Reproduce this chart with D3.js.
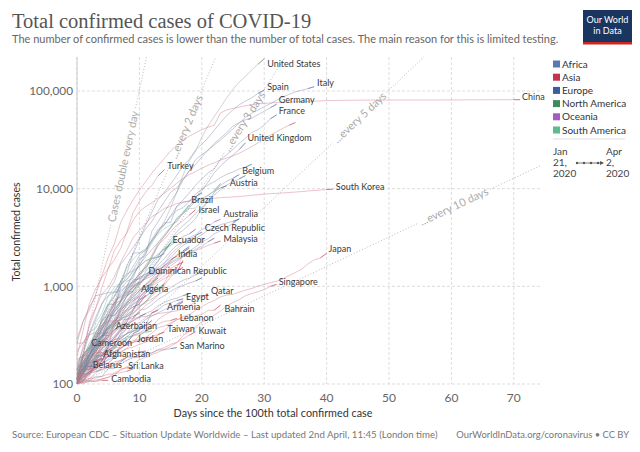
<!DOCTYPE html>
<html><head><meta charset="utf-8">
<script src="https://cdn.jsdelivr.net/npm/d3@7/dist/d3.min.js"></script>
<style>body{margin:0;background:#fff}svg{font-family:Lato,"Open Sans",sans-serif}</style>
</head><body><svg id="chart" width="640" height="452"></svg>
<script>
// ---------- DATA (cases by day since the 100th case) ----------
const continents = ["Africa","Asia","Europe","North America","Oceania","South America"];
const xTicks = [0,10,20,30,40,50,60,70];
const yTicks = [100,1000,10000,100000];
const doublingDays = [1,2,3,5,10];
const doublingLabels = ["Cases double every day","...every 2 days","...every 3 days","...every 5 days","...every 10 days"];

const casesUnitedStates=[100,124,158,221,319,435,541,704,994,1301,1630,2183,2770,3613,4596,6344,9197,13779,19367,24192,33592,43781,54856,68211,85356,104126,123578,140886,163788,188172,213372];
const casesSpain=[114,151,198,257,374,430,589,1024,1639,2140,3004,4231,5753,7753,9191,11178,13716,17147,19980,24926,28572,33089,39673,47610,56188,64059,72248,78797,85195,94417,102136];
const casesItaly=[155,229,322,453,655,888,1128,1694,2036,2502,3089,3858,4636,5883,7375,9172,10149,12462,15113,17660,21157,24747,27980,31506,35713,41035,47021,53578,59138,63927,69176,74386,80589,86498,92472,97689,101739,105792,110574];
const casesGermany=[130,159,196,262,482,670,799,1040,1176,1457,1908,2078,3675,4585,5795,7272,9257,12327,15320,19848,22213,24873,29056,32986,37323,43938,47373,50871,52547,57298,61913,67366,73522];
const casesFrance=[100,130,191,212,285,423,613,949,1126,1209,1784,2281,2876,3661,4469,4499,6633,7652,9043,10871,12612,14459,16018,19856,22302,25233,29155,32964,37575,40174,44550,52128,56989];
const casesChina=[291,440,571,830,1287,1975,2744,4515,5974,7711,9692,11791,14380,17205,20438,24324,28018,31161,34546,37198,40171,42638,44653,59804,63851,66492,68500,70548,72436,74185,74576,75465,76288,76936,77150,77658,78064,78497,78824,79251,79824,80026,80151,80270,80409,80552,80651,80695,80735,80754,80778,80793,80813,80824,80844,80860,80881,80894,80928,80967,81008,81054,81093,81171,81218,81285,81340,81394,81439,81470,81518,81554];
const casesUnitedKingdom=[115,163,206,273,321,373,456,590,797,1061,1391,1543,1950,2626,3269,3983,5018,5683,6650,8077,9529,11658,14543,17089,19522,22141,25150,29474];
const casesIran=[139,245,388,593,978,1501,2336,2922,3513,4747,5823,6566,7161,8042,9000,10075,11364,12729,13938,14991,16169,17361,18407,19644,20610,21638,23049,24811,27017,29406,32332,35408,38309,41495,44605,47593];
const casesTurkey=[191,359,670,947,1236,1529,1872,2433,3629,5698,7402,9217,10827,13531,15679];
const casesBelgium=[169,200,239,267,314,314,399,559,689,886,1058,1243,1486,1795,2257,2815,3401,3743,4269,4937,6235,7284,9134,10836,11899,12775,13964];
const casesAustria=[104,131,182,246,302,504,655,860,1016,1332,1646,2013,2388,2814,3244,3924,4876,5560,6398,7399,7995,8536,9377,10180,10711];
const casesSouthKorea=[104,204,433,602,833,977,1261,1766,2337,3150,3736,4335,5186,5621,6284,6593,7041,7314,7478,7513,7755,7869,7979,8086,8162,8236,8320,8413,8565,8652,8799,8897,8961,9037,9137,9241,9332,9478,9583,9661,9786,9887];
const casesBrazil=[121,200,234,291,428,621,904,1128,1546,1891,2201,2433,2915,3417,3904,4256,4579,5717,6836];
const casesIsrael=[178,193,213,298,337,433,677,705,883,1071,1238,1656,2030,2666,3035,3619,4247,4695,5358,6092];
const casesAustralia=[107,112,127,156,197,249,298,375,454,565,709,874,1098,1315,1709,2136,2431,2805,3166,3378,3809,4093,4557,4860];
const casesCzechRepublic=[116,141,189,253,298,383,464,694,833,995,1120,1236,1394,1654,1925,2279,2631,2817,3001,3308,3589];
const casesMalaysia=[117,129,149,149,197,238,428,566,673,790,900,1030,1183,1306,1518,1624,1796,2031,2161,2320,2470,2626,2766,2908];
const casesEcuador=[111,168,199,426,532,789,981,1082,1173,1403,1595,1823,1924,1962,2240,2748];
const casesIndia=[107,114,137,151,173,223,283,360,434,519,606,694,834,918,1024,1251,1397,1834];
const casesJapan=[105,132,144,144,156,164,186,210,230,239,254,268,284,317,349,408,455,488,514,568,620,675,716,780,814,829,873,914,950,1007,1046,1089,1128,1193,1291,1387,1499,1693,1866,1953,2178];
const casesDominicanRepublic=[112,202,245,312,392,488,581,719,859,901,1109];
const casesAlgeria=[139,201,230,264,302,367,409,454,511,584,716,847,986];
const casesSingapore=[102,106,108,110,112,117,130,138,150,160,178,187,200,212,226,243,266,313,345,385,432,455,509,558,631,683,732,802,844,879,926,1000,1049];
const casesQatar=[262,262,320,337,401,439,442,452,460,470,481,494,501,526,537,549,562,590,634,693,781,835];
const casesEgypt=[110,150,166,196,196,256,285,294,327,366,402,456,495,536,576,609,656,710];
const casesArmenia=[115,136,160,194,235,249,265,290,329,407,424,482,532,571];
const casesBahrain=[110,195,195,210,210,214,214,228,256,279,285,298,332,377,392,419,458,466,476,499,515,567,569,643];
const casesLebanon=[110,120,133,149,157,163,187,248,267,318,333,368,391,412,438,446,470];
const casesAzerbaijan=[122,165,182,209,273,298,359,400];
const casesTaiwan=[100,108,135,153,169,195,215,235,252,267,283,298,306,322,339];
const casesKuwait=[100,104,112,130,142,148,159,176,188,189,191,195,208,225,235,255,266,289,317,342];
const casesJordan=[112,127,127,153,172,212,235,235,259,268,274,278,299];
const casesCameroon=[139,142,142,193,193,223];
const casesSanMarino=[101,109,109,119,119,144,144,160,175,187,187,208,208,223,224,230,236];
const casesAfghanistan=[110,110,120,170,174,237];
const casesSriLanka=[102,102,106,106,113,117,122,143,146,148];
const casesBelarus=[152,152,152,152];
const casesCambodia=[103,103,107,107,109,109];
// unlabelled countries
const casesSwitzerland=[214,268,337,374,491,652,652,1139,1359,2200,2200,2330,3010,3863,4222,5294,6575,7245,7474,8795,9877,10897,11811,12928,14076,14829,15922,16605,17768];
const casesNetherlands=[128,188,265,321,382,503,503,614,804,959,1135,1413,1705,2051,2460,2994,3631,4204,4749,5560,6412,7431,8603,9762,10866,11750,12595,13614];
const casesPortugal=[112,169,245,331,448,642,785,1020,1280,1600,2060,2362,2995,3544,4268,5170,5962,6408,7443,8251,9034];
const casesCanada=[103,138,176,244,304,424,569,690,846,971,1331,1470,2088,2792,3409,4043,4682,5576,6255,6320,7398,8527,9560,11284];
const casesNorway=[113,147,176,227,400,489,598,702,996,1090,1221,1333,1463,1550,1742,1959,2299,2625,2866,3084,3369,3755,4015,4284,4445,4641,4863];
const casesSweden=[137,161,203,248,355,500,687,814,961,1022,1103,1190,1279,1439,1639,1763,1934,2016,2299,2526,2840,3069,3447,3700,4028,4435,4947];
const casesDenmark=[262,442,615,801,827,864,875,898,1024,1115,1225,1337,1420,1514,1572,1718,1862,2023,2200,2395,2577,2860,3107];
const casesIreland=[129,169,223,292,366,557,683,785,906,1125,1329,1564,1819,2121,2415,2615,2910,3235,3447,3849];
const casesChile=[155,201,238,342,434,537,632,746,922,1142,1306,1610,1909,2139,2449,2738,3031];
const casesRussia=[114,147,199,253,306,367,438,495,658,840,1036,1264,1534,1836,2337,2777];
const casesPoland=[103,119,177,238,251,355,425,536,634,749,901,1051,1221,1389,1638,1862,2055,2311,2554];
const casesRomania=[123,131,158,184,260,277,308,367,433,576,762,906,1029,1292,1452,1815,2109,2245,2460];
const casesPhilippines=[111,140,142,187,202,217,230,307,380,462,552,636,707,803,1075,1418,1546,2084,2311];
const casesPakistan=[136,187,241,299,454,501,730,776,875,972,1063,1201,1373,1495,1597,1865,2039];
const casesLuxembourg=[140,203,335,484,670,798,875,1099,1333,1453,1605,1831,1950,1988,2178];
const casesSaudiArabia=[103,118,133,171,238,274,344,392,511,562,767,900,1012,1104,1203,1299,1453,1563];
const casesIndonesia=[117,134,172,227,309,369,450,514,579,686,790,893,1046,1155,1285,1414,1528];
const casesThailand=[114,147,177,212,272,322,411,599,721,827,934,1045,1136,1245,1388,1524,1651,1771];
const casesGreece=[117,190,228,331,331,387,418,464,495,530,624,695,743,821,892,966,1061,1156,1212,1314,1415];
const casesMexico=[118,164,203,251,316,367,405,475,585,717,848,993,1094,1215];
const casesPanama=[109,137,200,245,313,345,443,558,674,786,901,989,1075];
const casesPeru=[117,145,234,263,318,363,395,416,480,580,635,671,852,950,1065];
const casesArgentina=[128,158,225,266,301,387,502,589,690,745,820,966,1054];
const casesColombia=[102,108,145,196,231,306,378,470,491,539,608,702,798,906,1065];
const casesSerbia=[103,135,171,222,249,303,384,457,528,659,741,785,900,1060];
const casesSlovenia=[141,181,219,253,275,286,341,383,414,442,480,528,562,632,684,730,756,802,841];
const casesEstonia=[115,171,205,225,258,267,283,306,326,352,369,404,538,575,645,679,715,745];
const casesIraq=[110,116,124,154,164,192,208,214,233,266,316,346,382,458,506,547,630,694];
const casesIceland=[103,117,134,156,171,220,250,330,409,473,568,588,648,737,802,890,963,1020,1086,1135,1220];
const casesSouthAfrica=[116,150,202,240,274,402,554,709,927,1170,1187,1280,1326,1353,1380];
const casesUAE=[113,140,153,198,248,333,405,468,570,611,664,814];
const casesMorocco=[115,143,170,225,275,345,402,479,556,617,654];
const casesHungary=[103,131,167,187,226,261,300,343,408,447,492,525];
const casesNewZealand=[102,155,205,283,368,451,514,589,647,708,797];
const casesTunisia=[114,173,197,227,278,312,362,394,423];
const casesBurkinaFaso=[114,146,152,180,207,222,246,261,288];
const casesSenegal=[105,119,130,142,162,175,190,195];
const casesCostaRica=[113,117,134,158,177,201,231,263,295,314,330,347,375];
const casesUruguay=[110,135,158,162,189,217,238,274,304,310,320,338,350];
const casesCroatia=[105,128,206,254,315,382,442,495,586,657,713,790,867,963];
const casesVietnam=[113,123,134,141,148,153,169,174,188,203,212,218];
const casesUkraine=[113,145,196,310,356,475,548,645,794,897];
const casesGhana=[132,137,141,152,161,195];
const casesIvoryCoast=[101,140,165,168,179,190,194];
const casesMauritius=[102,107,128,143,161];
const casesNigeria=[111,131,139,174,184];
const casesUzbekistan=[104,145,149,172,181];
const casesMoldova=[125,149,177,199,231,263,298,353,423];
const casesBulgaria=[125,163,187,201,218,242,264,293,331,346,359,399];
const casesLithuania=[105,143,179,209,274,299,358,394,460,491,537];
const casesLatvia=[111,124,139,180,197,221,244,280,305,347,376,398,446];
const casesNorthMacedonia=[114,136,148,177,201,219,241,259,285,329,354];
const casesBosnia=[126,136,164,176,196,237,258,323,368,420];
const casesCyprus=[116,124,132,146,162,179,214,230,262,320];
const casesPuertoRico=[100,127,174,239,286];
const casesKazakhstan=[111,150,228,284,302,343];
const casesOman=[109,131,152,167,179,192,210];
const casesBrunei=[104,109,114,115,120,126,127,131,135,143];
const casesMalta=[107,110,129,134,139,149,156,169,188];
const casesCuba=[119,139,170,186,212];
const casesVenezuela=[107,119,129,135,143];

// table for the library: [name, continent, values, labelled?]
const seriesTable = [
 ["Algeria","Africa",casesAlgeria,1],["Egypt","Africa",casesEgypt,1],["Cameroon","Africa",casesCameroon,1],
 ["South Africa","Africa",casesSouthAfrica,0],["Morocco","Africa",casesMorocco,0],["Tunisia","Africa",casesTunisia,0],
 ["Burkina Faso","Africa",casesBurkinaFaso,0],["Senegal","Africa",casesSenegal,0],["Ghana","Africa",casesGhana,0],
 ["Cote d'Ivoire","Africa",casesIvoryCoast,0],["Mauritius","Africa",casesMauritius,0],["Nigeria","Africa",casesNigeria,0],
 ["Switzerland","Europe",casesSwitzerland,0],["Netherlands","Europe",casesNetherlands,0],["Portugal","Europe",casesPortugal,0],
 ["Norway","Europe",casesNorway,0],["Sweden","Europe",casesSweden,0],["Denmark","Europe",casesDenmark,0],["Ireland","Europe",casesIreland,0],
 ["Russia","Europe",casesRussia,0],["Poland","Europe",casesPoland,0],["Romania","Europe",casesRomania,0],["Luxembourg","Europe",casesLuxembourg,0],
 ["Greece","Europe",casesGreece,0],["Serbia","Europe",casesSerbia,0],["Slovenia","Europe",casesSlovenia,0],["Estonia","Europe",casesEstonia,0],
 ["Iceland","Europe",casesIceland,0],["Hungary","Europe",casesHungary,0],["Croatia","Europe",casesCroatia,0],["Ukraine","Europe",casesUkraine,0],
 ["Moldova","Europe",casesMoldova,0],["Bulgaria","Europe",casesBulgaria,0],["Lithuania","Europe",casesLithuania,0],["Latvia","Europe",casesLatvia,0],
 ["North Macedonia","Europe",casesNorthMacedonia,0],["Bosnia and Herzegovina","Europe",casesBosnia,0],["Cyprus","Europe",casesCyprus,0],["Malta","Europe",casesMalta,0],
 ["Philippines","Asia",casesPhilippines,0],["Pakistan","Asia",casesPakistan,0],["Saudi Arabia","Asia",casesSaudiArabia,0],["Indonesia","Asia",casesIndonesia,0],
 ["Thailand","Asia",casesThailand,0],["Iraq","Asia",casesIraq,0],["United Arab Emirates","Asia",casesUAE,0],["Vietnam","Asia",casesVietnam,0],
 ["Uzbekistan","Asia",casesUzbekistan,0],["Kazakhstan","Asia",casesKazakhstan,0],["Oman","Asia",casesOman,0],["Brunei","Asia",casesBrunei,0],
 ["Canada","North America",casesCanada,0],["Mexico","North America",casesMexico,0],["Panama","North America",casesPanama,0],
 ["Costa Rica","North America",casesCostaRica,0],["Puerto Rico","North America",casesPuertoRico,0],["Cuba","North America",casesCuba,0],
 ["Chile","South America",casesChile,0],["Peru","South America",casesPeru,0],["Argentina","South America",casesArgentina,0],
 ["Colombia","South America",casesColombia,0],["Uruguay","South America",casesUruguay,0],["Venezuela","South America",casesVenezuela,0],
 ["New Zealand","Oceania",casesNewZealand,0],["Iran","Asia",casesIran,0],
 ["United States","North America",casesUnitedStates,1],["Spain","Europe",casesSpain,1],["Italy","Europe",casesItaly,1],
 ["Germany","Europe",casesGermany,1],["France","Europe",casesFrance,1],["China","Asia",casesChina,1],["United Kingdom","Europe",casesUnitedKingdom,1],
 ["Turkey","Asia",casesTurkey,1],["Belgium","Europe",casesBelgium,1],["Austria","Europe",casesAustria,1],["South Korea","Asia",casesSouthKorea,1],
 ["Brazil","South America",casesBrazil,1],["Israel","Asia",casesIsrael,1],["Australia","Oceania",casesAustralia,1],
 ["Czech Republic","Europe",casesCzechRepublic,1],["Malaysia","Asia",casesMalaysia,1],["Ecuador","South America",casesEcuador,1],
 ["India","Asia",casesIndia,1],["Japan","Asia",casesJapan,1],["Dominican Republic","North America",casesDominicanRepublic,1],
 ["Singapore","Asia",casesSingapore,1],["Qatar","Asia",casesQatar,1],["Armenia","Asia",casesArmenia,1],["Bahrain","Asia",casesBahrain,1],
 ["Lebanon","Asia",casesLebanon,1],["Azerbaijan","Asia",casesAzerbaijan,1],["Taiwan","Asia",casesTaiwan,1],["Kuwait","Asia",casesKuwait,1],
 ["Jordan","Asia",casesJordan,1],["San Marino","Europe",casesSanMarino,1],["Afghanistan","Asia",casesAfghanistan,1],
 ["Sri Lanka","Asia",casesSriLanka,1],["Belarus","Europe",casesBelarus,1],["Cambodia","Asia",casesCambodia,1]
];

// ---------- LAYOUT / STYLE ----------
const continentColor = {"Africa":"#5878b8","Asia":"#c5344a","Europe":"#3e5c9e","North America":"#3f8a63","Oceania":"#a35cc6","South America":"#5dbb8d"};
const lineColor = {"Africa":"#6b86c0","Asia":"#d06a7a","Europe":"#7580a0","North America":"#86998f","Oceania":"#a878c0","South America":"#6fb996"};
// label offsets (px) from the end of each labelled line
const labelNudge = {
 "United States":[3,5],"Spain":[3,-3],"Italy":[3,-4],"Germany":[2,-4],"France":[2,-4],"China":[2,-3],
 "United Kingdom":[2,-5],"Turkey":[3,-4],"Belgium":[3,-4],"Austria":[3,-3],"South Korea":[3,-2],"Brazil":[2,-5],
 "Israel":[3,0],"Australia":[3,-5],"Czech Republic":[3,-4],"Malaysia":[3,-2],"Ecuador":[2,-4],"India":[-5,-7],
 "Japan":[2,-4],"Dominican Republic":[9,-11],"Algeria":[-11,2],"Singapore":[2,-2],"Qatar":[3,-3],"Egypt":[3,-4],
 "Armenia":[9,-3],"Bahrain":[4,4],"Lebanon":[3,-1],"Azerbaijan":[-5,1],"Taiwan":[3,-3],"Kuwait":[3,-1],
 "Jordan":[-15,1.5],"Cameroon":[-17,-7],"San Marino":[3,-2],"Afghanistan":[-5,6],"Sri Lanka":[-5,-2],
 "Belarus":[-3,-1],"Cambodia":[3,-1]
};
const doublingLabelDay = [7.4,17.5,26.8,45.3,60.4];

const svg = d3.select("#chart");
const pL=77, pR=540, pT=57, pB=384;
const x = d3.scaleLinear().domain([0,74.2]).range([pL,pR]);
const y = d3.scaleLog().domain([100,100000]).range([pB,91]);
const yTopVal = y.invert(pT);

// header
svg.append("text").attr("x",12).attr("y",28).attr("font-family","'Liberation Serif','DejaVu Serif',serif")
  .attr("font-size",20.5).attr("fill","#555").text("Total confirmed cases of COVID-19");
svg.append("text").attr("x",12).attr("y",43).attr("font-size",11).attr("fill","#666")
  .text("The number of confirmed cases is lower than the number of total cases. The main reason for this is limited testing.");
// logo
const logo = svg.append("g");
logo.append("rect").attr("x",583).attr("y",10).attr("width",49).attr("height",34).attr("fill","#1a3560");
logo.append("rect").attr("x",583).attr("y",42).attr("width",49).attr("height",2.5).attr("fill","#ce261e");
logo.append("text").attr("x",607.5).attr("y",23).attr("text-anchor","middle").attr("font-size",9).attr("fill","#fff").text("Our World");
logo.append("text").attr("x",607.5).attr("y",34).attr("text-anchor","middle").attr("font-size",9).attr("fill","#fff").text("in Data");

// grid
const grid = svg.append("g");
grid.selectAll(".vg").data(xTicks).join("line").attr("x1",d=>x(d)).attr("x2",d=>x(d)).attr("y1",pT).attr("y2",pB)
  .attr("stroke","#ddd").attr("stroke-dasharray","3,2");
grid.selectAll(".hg").data(yTicks).join("line").attr("x1",pL).attr("x2",pR).attr("y1",d=>y(d)).attr("y2",d=>y(d))
  .attr("stroke","#ddd").attr("stroke-dasharray","3,2");
grid.append("line").attr("x1",pL).attr("x2",pL).attr("y1",pT).attr("y2",pB).attr("stroke","#ccc");

// axes labels
svg.append("g").selectAll("text").data(xTicks).join("text").attr("x",d=>x(d)).attr("y",402).attr("text-anchor","middle")
  .attr("font-size",12).attr("fill","#666").text(d=>d);
svg.append("g").selectAll("text").data(yTicks).join("text").attr("x",73).attr("y",d=>y(d)).attr("dy","0.36em").attr("text-anchor","end")
  .attr("font-size",11.8).attr("fill","#666").text(d=>d3.format(",")(d));
svg.append("text").attr("x",273).attr("y",417).attr("text-anchor","middle").attr("font-size",10.8).attr("fill","#333")
  .text("Days since the 100th total confirmed case");
svg.append("text").attr("transform","translate(20,232) rotate(-90)").attr("text-anchor","middle").attr("font-size",10.5).attr("fill","#333")
  .text("Total confirmed cases");

// doubling reference lines
const refG = svg.append("g");
doublingDays.forEach((n,i)=>{
  const endDay = Math.min(74.2, n*Math.log2(yTopVal/100));
  const x0=x(0), y0=y(100), x1=x(endDay), y1=y(100*Math.pow(2,endDay/n));
  const cd = doublingLabelDay[i];
  const cx=x(cd), cy=y(100*Math.pow(2,cd/n));
  const ang = Math.atan2(y1-y0,x1-x0);
  const t = refG.append("text").attr("font-size",11).attr("fill","#aaa").attr("text-anchor","middle").attr("dy","0.35em")
    .attr("transform",`translate(${cx},${cy}) rotate(${ang*180/Math.PI})`).text(doublingLabels[i]);
  const half = t.node().getComputedTextLength()/2+3;
  const ux=Math.cos(ang), uy=Math.sin(ang);
  [[x0,y0,cx-ux*half,cy-uy*half],[cx+ux*half,cy+uy*half,x1,y1]].forEach(s=>{
    refG.append("line").attr("x1",s[0]).attr("y1",s[1]).attr("x2",s[2]).attr("y2",s[3])
      .attr("stroke","#bbb").attr("stroke-width",1).attr("stroke-dasharray","1,2");
  });
});

// country lines
const lineGen = d3.line().x((d,i)=>x(i)).y(d=>y(d));
const lines = svg.append("g");
seriesTable.forEach(([name,cont,vals])=>{
  lines.append("path").attr("d",lineGen(vals)).attr("fill","none").attr("stroke",lineColor[cont])
    .attr("stroke-width",0.8).attr("stroke-opacity",0.5);
  const n = vals.length;
  const tail = d3.line().x((d,i)=>x(i+n-2)).y(d=>y(d));
  lines.append("path").attr("d",tail(vals.slice(n-2))).attr("fill","none").attr("stroke",continentColor[cont])
    .attr("stroke-width",0.9).attr("stroke-opacity",0.55);
});

// labels
const labG = svg.append("g");
seriesTable.filter(s=>s[3]).forEach(([name,cont,vals])=>{
  const n=vals.length, nd=labelNudge[name]||[3,0];
  labG.append("text").attr("x",x(n-1)+nd[0]).attr("y",y(vals[n-1])+nd[1]).attr("dy","0.35em")
    .attr("font-size",9).attr("fill","#3a3a3a").text(name);
});

// legend
const leg = svg.append("g");
continents.forEach((c,i)=>{
  const yy = 64 + i*13.2;
  leg.append("rect").attr("x",553).attr("y",yy-3.5).attr("width",7).attr("height",7).attr("fill",continentColor[c]);
  leg.append("text").attr("x",562).attr("y",yy).attr("dy","0.35em").attr("font-size",10).attr("fill","#333").text(c);
});
leg.append("line").attr("x1",553).attr("x2",625).attr("y1",139).attr("y2",139).attr("stroke","#ddd");
[["Jan",151],["21,",162],["2020",173]].forEach(([t,yy])=>leg.append("text").attr("x",553).attr("y",yy).attr("dy","0.35em").attr("font-size",10).attr("fill","#444").text(t));
[["Apr",151],["2,",162],["2020",173]].forEach(([t,yy])=>leg.append("text").attr("x",606).attr("y",yy).attr("dy","0.35em").attr("font-size",10).attr("fill","#444").text(t));
leg.append("line").attr("x1",577).attr("x2",603).attr("y1",163).attr("y2",163).attr("stroke","#555").attr("stroke-width",0.8);
[577,584,591,598].forEach(px=>leg.append("circle").attr("cx",px).attr("cy",163).attr("r",1.2).attr("fill","#555"));
leg.append("path").attr("d","M600,161 L604,163 L600,165 Z").attr("fill","#555");

// footer
svg.append("text").attr("x",12).attr("y",438).attr("font-size",9.7).attr("fill","#777")
  .text("Source: European CDC – Situation Update Worldwide – Last updated 2nd April, 11:45 (London time)");
svg.append("text").attr("x",629).attr("y",438).attr("text-anchor","end").attr("font-size",9.4).attr("fill","#777")
  .text("OurWorldInData.org/coronavirus • CC BY");
</script></body></html>
